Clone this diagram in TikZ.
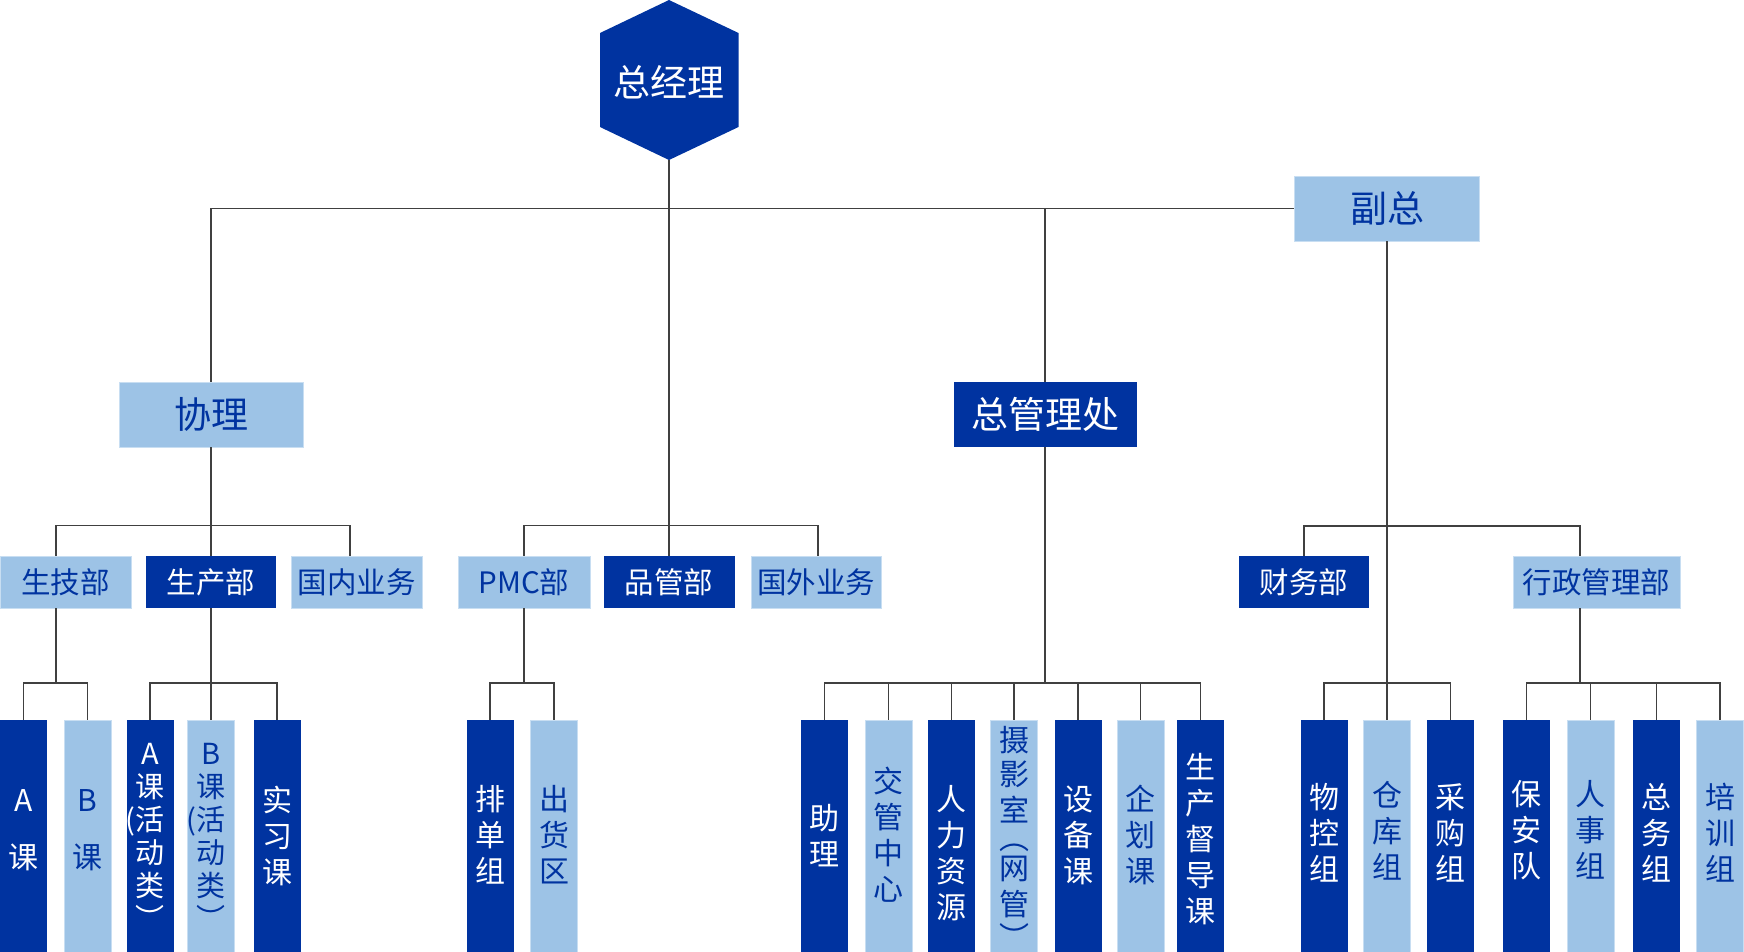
\documentclass[tikz,border=0pt]{standalone}
\usepackage{fontspec}
\setmainfont{Noto Sans CJK SC}
\definecolor{dk}{HTML}{0033A0}
\definecolor{lt}{HTML}{9DC3E6}
\definecolor{lnc}{HTML}{404040}
\definecolor{ltb}{HTML}{C8DEF2}
\newcommand\leaf[5]{%
  \node[#3fill,barbox] (#1) at (#2,840) {};
  \node[#3vt] (#1t) at (#2,#4) {#5};}
\begin{document}
\begin{tikzpicture}[x=1pt,y=-1pt,
  conn/.style={draw=lnc,line width=1.6pt},
  dkfill/.style={fill=dk,text=white,inner sep=0pt,draw=none},
  ltfill/.style={fill=lt,text=dk,inner sep=0pt,draw=ltb,line width=0.8pt},
  dktfill/.style={dkfill},
  lttfill/.style={ltfill},
  lone/.style={minimum width=184pt,minimum height=65pt,font=\fontsize{37}{44}\selectfont},
  ltwo/.style={minimum width=131pt,minimum height=52pt,font=\fontsize{29.5}{35}\selectfont},
  barbox/.style={minimum width=47pt,minimum height=240pt},
  dkvt/.style={inner sep=0pt,align=center,text=white,font=\fontsize{30}{36}\selectfont},
  ltvt/.style={inner sep=0pt,align=center,text=dk,font=\fontsize{30}{36}\selectfont},
  dktvt/.style={dkvt,font=\fontsize{29}{33}\selectfont},
  lttvt/.style={ltvt,font=\fontsize{29}{33}\selectfont},
]
\useasboundingbox (0,0) rectangle (1744,951);

% top hexagon
\fill[dk] (669,0) -- (738.5,33) -- (738.5,127) -- (669,160) -- (600,127) -- (600,33) -- cycle;
\node[text=white,inner sep=0pt,font=\fontsize{37}{44}\selectfont] (gm) at (669,82) {总经理};
\coordinate (gmb) at (669,160);

% level 1
\node[ltfill,lone] (xl) at (211,414.5) {协理};
\node[dkfill,lone,minimum width=183pt] (zglc) at (1045,414.5) {总管理处};
\node[ltfill,lone,minimum width=185pt] (fz) at (1387,208.5) {副总};

% level 2
\node[ltfill,ltwo] (sjb) at (65.5,582) {生技部};
\node[dkfill,ltwo,minimum width=130pt] (scb) at (211,582) {生产部};
\node[ltfill,ltwo] (gnyw) at (356.5,582) {国内业务};
\node[ltfill,ltwo,minimum width=132pt] (pmc) at (524,582) {PMC部};
\node[dkfill,ltwo] (pgb) at (669,582) {品管部};
\node[ltfill,ltwo,minimum width=130pt] (gwyw) at (816,582) {国外业务};
\node[dkfill,ltwo,minimum width=130pt] (cwb) at (1304,582) {财务部};
\node[ltfill,ltwo,minimum width=167pt] (xzglb) at (1596.5,582) {行政管理部};

% level 3
\leaf{ka}{23.5}{dk}{830}{A\\[21pt]课}
\leaf{kb}{87.5}{lt}{830}{B\\[21pt]课}
\leaf{kaa}{150}{dkt}{836}{A\\课\\\llap{(}活\\动\\类\\︶}
\leaf{kba}{211}{ltt}{836}{B\\课\\\llap{(}活\\动\\类\\︶}
\leaf{sxk}{277}{dk}{836}{实\\习\\课}
\leaf{pdz}{490}{dk}{835}{排\\单\\组}
\leaf{chq}{554}{lt}{835}{出\\货\\区}
\leaf{zl}{824.5}{dk}{836}{助\\理}
\leaf{jgzx}{888.5}{lt}{835}{交\\管\\中\\心}
\leaf{rlzy}{951.5}{dk}{853}{人\\力\\资\\源}
\leaf{sys}{1014}{lt}{837}{摄\\[-2pt]影\\室\\[-8pt]︵\\[-6pt]网\\管\\[-3pt]︶}
\leaf{sbk}{1078}{dk}{835}{设\\备\\课}
\leaf{qhk}{1140.5}{lt}{835}{企\\划\\课}
\leaf{scddk}{1200.5}{dk}{839.5}{生\\产\\督\\导\\课}
\leaf{wkz}{1324}{dk}{833}{物\\控\\组}
\leaf{ckz}{1387}{lt}{831}{仓\\库\\组}
\leaf{cgz}{1450.5}{dk}{833}{采\\购\\组}
\leaf{bad}{1526.5}{dk}{830}{保\\安\\队}
\leaf{rsz}{1590.5}{lt}{830}{人\\事\\组}
\leaf{zwz}{1656.5}{dk}{833}{总\\务\\组}
\leaf{pxz}{1720}{lt}{833}{培\\训\\组}

% connectors: top
\draw[conn] (gmb) -- (pgb.north);
\draw[conn] (xl.north) |- (fz.west);
\draw[conn] (zglc.north) -- (zglc.north |- fz.west);
\draw[conn] (fz.south) -- (ckz.north);

% level 1 -> level 2
\draw[conn] (xl.south) -- (scb.north);
\draw[conn] ([xshift=-9.5pt]sjb.north) -- ++(0,-30) -| ([xshift=-6.5pt]gnyw.north);
\draw[conn] (pmc.north) -- ++(0,-30) -| ([xshift=2pt]gwyw.north);
\draw[conn] (cwb.north) -- ++(0,-30) -| ([xshift=-16.5pt]xzglb.north);

% level 2 -> level 3
\draw[conn] ([xshift=-9.5pt]sjb.south) -- ++(0,75);
\draw[conn] (ka.north) -- ++(0,-37) -| (kb.north);
\draw[conn] (scb.south) -- (kba.north);
\draw[conn] (kaa.north) -- ++(0,-37) -| (sxk.north);
\draw[conn] (pmc.south) -- ++(0,75);
\draw[conn] (pdz.north) -- ++(0,-37) -| (chq.north);
\draw[conn] (zglc.south) -- (zglc.south |- 0,683);
\draw[conn] (zl.north) -- ++(0,-37) -| (scddk.north);
\foreach \n in {jgzx,rlzy,sys,sbk,qhk} \draw[conn] (\n.north) -- ++(0,-37);
\draw[conn] (wkz.north) -- ++(0,-37) -| (cgz.north);
\draw[conn] ([xshift=-16.5pt]xzglb.south) -- ++(0,75);
\draw[conn] (bad.north) -- ++(0,-37) -| (pxz.north);
\foreach \n in {rsz,zwz} \draw[conn] (\n.north) -- ++(0,-37);
\end{tikzpicture}
\end{document}
